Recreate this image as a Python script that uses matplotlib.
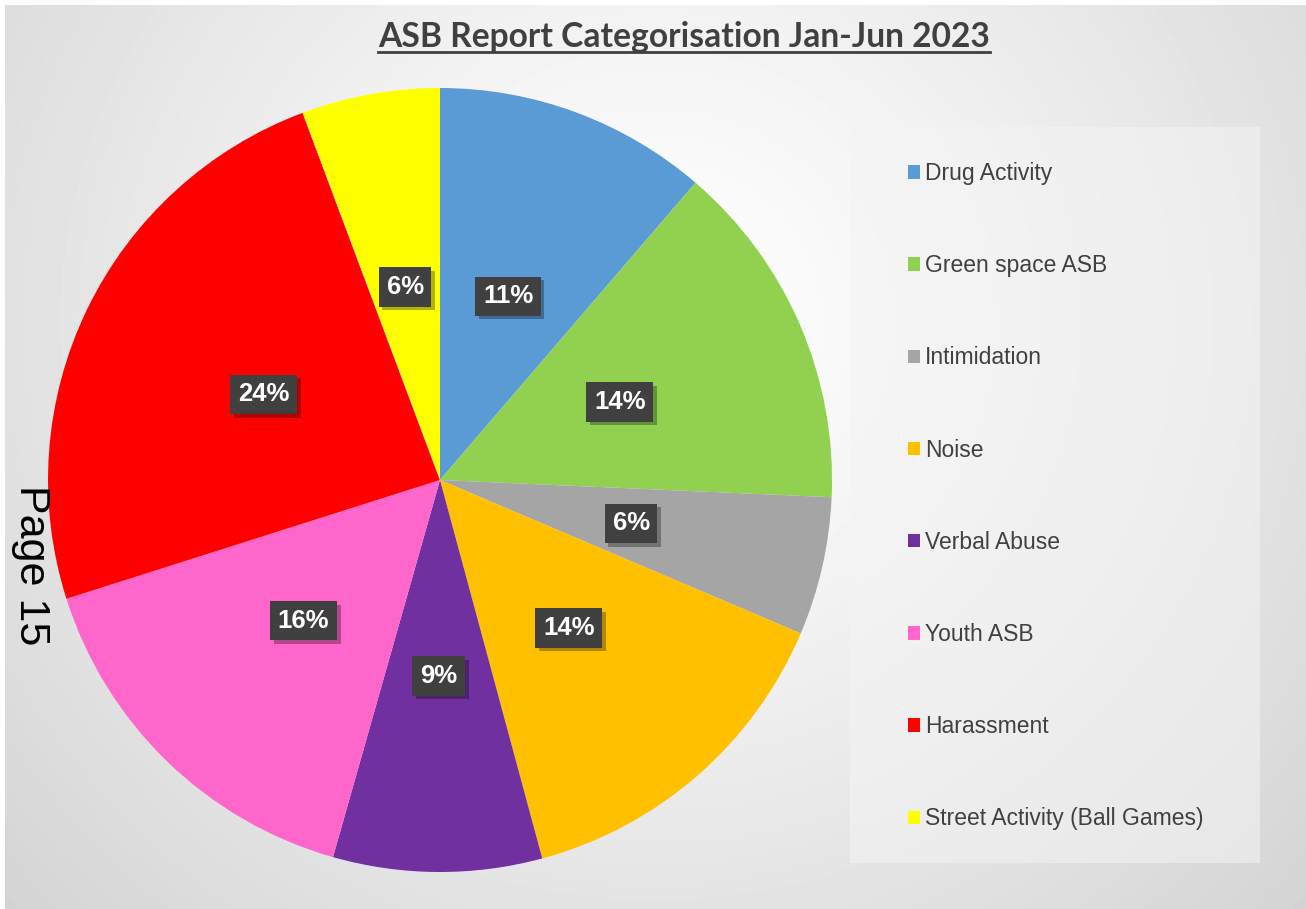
import matplotlib
matplotlib.use("Agg")
import matplotlib.pyplot as plt
from matplotlib.patches import Rectangle
from matplotlib.lines import Line2D
import matplotlib.patheffects as pe
import numpy as np

# data
categories = ["Drug Activity", "Green space ASB", "Intimidation", "Noise",
              "Verbal Abuse", "Youth ASB", "Harassment", "Street Activity (Ball Games)"]
percentages = [11.3, 14.4, 5.7, 14.4, 8.6, 15.7, 24.2, 5.7]
colours = ["#5B9BD5", "#92D050", "#A5A5A5", "#FFC000",
           "#7030A0", "#FF66CC", "#FF0000", "#FFFF00"]
title = "ASB Report Categorisation Jan-Jun 2023"

W, H = 1306, 909
fig = plt.figure(figsize=(W / 100, H / 100), dpi=100)
fig.patch.set_facecolor("white")

# radial grey background
bg = fig.add_axes([5 / W, 0, (W - 5) / W, (H - 5) / H])
yy, xx = np.mgrid[0:1:300j, 0:1:430j]
d = np.sqrt(((xx - 0.5) * 1.4) ** 2 + (yy - 0.35) ** 2)
d = d / d.max()
shade = 1.0 - 0.17 * d ** 1.2
bg.imshow(shade, cmap="gray", vmin=0, vmax=1, aspect="auto", extent=[0, 1, 1, 0])
bg.set_axis_off()

# legend panel
fig.patches.append(Rectangle((850 / W, 1 - 863 / H), 410 / W, 736 / H,
                             transform=fig.transFigure, facecolor="#f4f4f4",
                             alpha=0.55, edgecolor="none", zorder=1))

# pie
R = 392
cx, cy = 440, 480
ax = fig.add_axes([(cx - R) / W, (H - cy - R) / H, 2 * R / W, 2 * R / H])
wedges, texts, autotexts = ax.pie(percentages, colors=colours, startangle=90,
                                  counterclock=False, autopct="%1.0f%%",
                                  pctdistance=0.5, radius=1,
                                  wedgeprops=dict(linewidth=0))
ax.set_xlim(-1, 1)
ax.set_ylim(-1, 1)
ax.set_axis_off()

for t in autotexts:
    t.set_fontsize(18.5)
    t.set_fontweight("bold")
    t.set_family("Liberation Sans")
    t.set_color("white")
    t.set_bbox(dict(boxstyle="square,pad=0.3", facecolor="#404040", edgecolor="none"))
    # drop shadow behind the label box
    t.get_bbox_patch().set_path_effects(
        [pe.SimplePatchShadow(offset=(2.5, -2.5), shadow_rgbFace="black", alpha=0.3),
         pe.Normal()])

# legend
handles = [Rectangle((0, 0), 1, 1, facecolor=c, edgecolor="none") for c in colours]
leg = fig.legend(handles, categories, loc="upper left",
                 bbox_to_anchor=(908 / W, 1 - 162 / H), frameon=False,
                 prop=dict(family="Liberation Sans", size=16.5),
                 labelcolor="#404040", handlelength=0.52, handleheight=0.52,
                 handletextpad=0.22, labelspacing=3.02, borderpad=0, borderaxespad=0)

# title with underline
tt = fig.text(684 / W, 1 - 37 / H, title, ha="center", va="center",
              fontsize=24.2, fontweight="bold", family="Lato", color="#404040")
fig.canvas.draw()
bb = tt.get_window_extent().transformed(fig.transFigure.inverted())
uy = 1 - 52 / H
fig.lines.append(Line2D([bb.x0, bb.x1], [uy, uy], transform=fig.transFigure,
                        color="#404040", linewidth=2))

# page number on the side
fig.text(31 / W, 1 - 565 / H, "Page 15", rotation=-90, ha="center", va="center",
         fontsize=31, family="Liberation Sans", color="black")

fig.savefig("out.png", dpi=100)
